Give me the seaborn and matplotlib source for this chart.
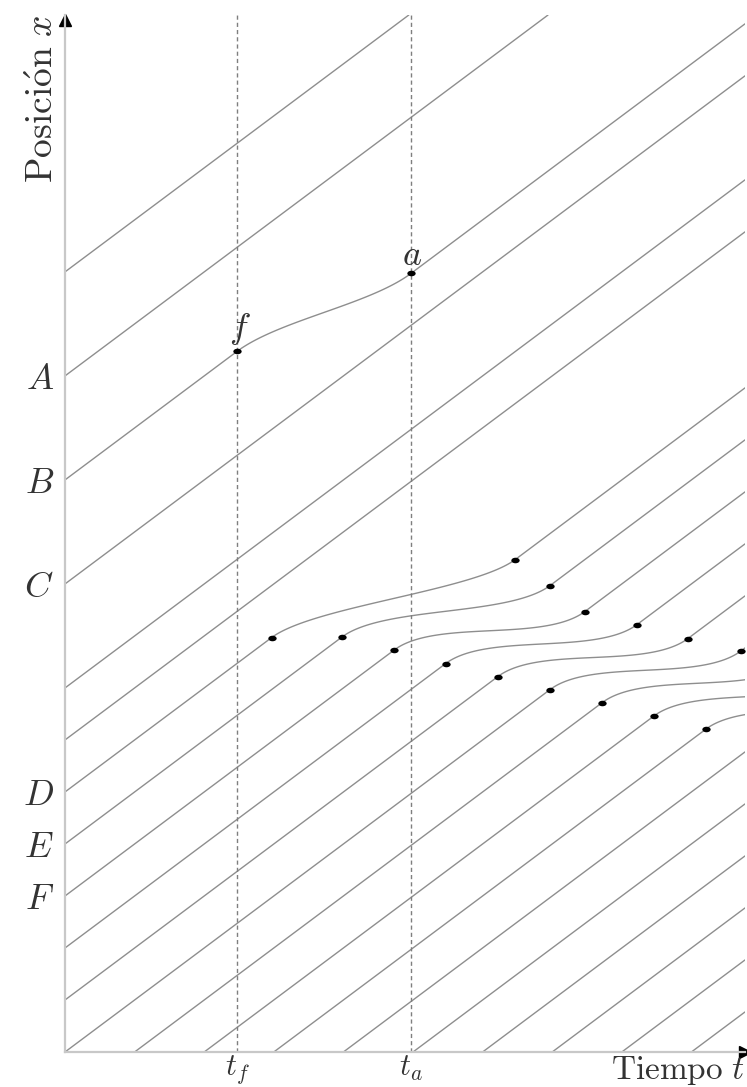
"""Space-time diagram: vehicle trajectories x = t + c with a slowed platoon."""
import matplotlib
import numpy as np
import pandas as pd

matplotlib.use("Agg")
import matplotlib.pyplot as plt  # noqa: E402
import seaborn as sns  # noqa: E402
from matplotlib.path import Path  # noqa: E402
from matplotlib.transforms import Affine2D  # noqa: E402

# visible extent of the axes (time, position)
T_MAX = 9.77
X_MAX = 19.94

# trajectories x = t + c that cross the plot without disturbance
FREE_OFFSETS = [15, 13, 9, 7, 6, -4, -5, -6, -7, -8, -9]

# platoon: offset of each vehicle, time it leaves its line, time it rejoins
PLATOON_OFFSETS = [5, 4, 3, 2, 1, 0, -1, -2, -3]
PLATOON_EXIT_T = [2.97, 3.98, 4.73, 5.47, 6.22, 6.97, 7.72, 8.46, 9.21]
PLATOON_JOIN_T = [6.47, 6.97, 7.47, 8.22, 8.95, 9.71, 10.46, 11.21, 11.96]
PLATOON_SHIFT = 2  # every vehicle rejoins two lines further back

# single vehicle f -> a
T_F = 2.47
T_A = 4.97
F_OFFSET = 11
A_OFFSET = 10

Y_TICKS = [13, 11, 9, 5, 4, 3]
Y_LABELS = ["$A$", "$B$", "$C$", "$D$", "$E$", "$F$"]
X_TICKS = [T_F, T_A]
X_LABELS = ["$t_f$", "$t_a$"]

LINE_GREY = "#8e8e8e"
TEXT_GREY = "#333333"
LEAD = 0.6  # bezier handle length for the smooth transitions


def straight(c, t0=None, t1=None):
    """Points of the line x = t + c clipped to the visible box."""
    t0 = max(0.0, -c) if t0 is None else t0
    t1 = min(T_MAX, X_MAX - c) if t1 is None else t1
    t = np.array([t0, t1])
    return t, t + c


def bezier(p, q, n=80):
    """Cubic bezier leaving p and entering q with the free-flow slope."""
    p, q = np.asarray(p, float), np.asarray(q, float)
    c1, c2 = p + LEAD, q - LEAD
    s = np.linspace(0.0, 1.0, n)[:, None]
    pts = (1 - s) ** 3 * p + 3 * (1 - s) ** 2 * s * c1 \
        + 3 * (1 - s) * s ** 2 * c2 + s ** 3 * q
    return pts[:, 0], pts[:, 1]


def trajectory(c_in, t_exit, c_out, t_join):
    """Line c_in up to t_exit, smooth shift, then line c_out from t_join."""
    t_a, x_a = straight(c_in, t1=t_exit)
    t_b, x_b = bezier((t_exit, t_exit + c_in), (t_join, t_join + c_out))
    parts_t, parts_x = [t_a, t_b], [x_a, x_b]
    if t_join < T_MAX:
        t_c, x_c = straight(c_out, t0=t_join)
        parts_t.append(t_c)
        parts_x.append(x_c)
    return np.concatenate(parts_t), np.concatenate(parts_x)


frames = []
for c in FREE_OFFSETS:
    t, x = straight(c)
    frames.append(pd.DataFrame({"veh": f"free{c}", "t": t, "x": x}))

for c, te, tj in zip(PLATOON_OFFSETS, PLATOON_EXIT_T, PLATOON_JOIN_T):
    t, x = trajectory(c, te, c - PLATOON_SHIFT, tj)
    frames.append(pd.DataFrame({"veh": f"plat{c}", "t": t, "x": x}))

t, x = trajectory(F_OFFSET, T_F, A_OFFSET, T_A)
frames.append(pd.DataFrame({"veh": "fa", "t": t, "x": x}))
traj = pd.concat(frames, ignore_index=True)

# event dots
dot_t = list(PLATOON_EXIT_T) + [tj for tj in PLATOON_JOIN_T if tj < T_MAX]
dot_x = [te + c for te, c in zip(PLATOON_EXIT_T, PLATOON_OFFSETS)]
dot_x += [tj + c - PLATOON_SHIFT
          for tj, c in zip(PLATOON_JOIN_T, PLATOON_OFFSETS) if tj < T_MAX]
dot_t += [T_F, T_A]
dot_x += [T_F + F_OFFSET, T_A + A_OFFSET]
dots = pd.DataFrame({"t": dot_t, "x": dot_x})

sns.set_theme(style="white")
plt.rcParams["mathtext.fontset"] = "cm"

fig = plt.figure(figsize=(7.47, 10.87), dpi=100)
ax = fig.add_axes([65 / 747, 35 / 1087, 680 / 747, 1037 / 1087])

sns.lineplot(data=traj, x="t", y="x", units="veh", estimator=None,
             sort=False, color=LINE_GREY, linewidth=1.0, ax=ax, legend=False)

ax.vlines(X_TICKS, 0, X_MAX, colors="#7f7f7f", linewidth=1.0,
          linestyles=(0, (3.0, 2.2)))

ellipse = Path.unit_circle().transformed(Affine2D().scale(1.5, 1.0))
sns.scatterplot(data=dots, x="t", y="x", marker=ellipse, s=36,
                color="black", linewidth=0, ax=ax, zorder=5)

ax.annotate("$f$", (T_F, T_F + F_OFFSET), xytext=(2, 3),
            textcoords="offset points", ha="center", va="bottom",
            fontsize=26, color=TEXT_GREY)
ax.annotate("$a$", (T_A, T_A + A_OFFSET), xytext=(1, 1),
            textcoords="offset points", ha="center", va="bottom",
            fontsize=26, color=TEXT_GREY)

ax.set_xlim(0, T_MAX)
ax.set_ylim(0, X_MAX)
ax.set_xlabel("")
ax.set_ylabel("")
ax.set_yticks(Y_TICKS, Y_LABELS)
ax.set_xticks(X_TICKS, X_LABELS)
ax.tick_params(axis="y", length=0, pad=8, labelsize=26, labelcolor=TEXT_GREY)
ax.tick_params(axis="x", length=0, pad=1, labelsize=22, labelcolor=TEXT_GREY)

sns.despine(ax=ax)
for side in ("left", "bottom"):
    ax.spines[side].set_color("#c8c8c8")
    ax.spines[side].set_linewidth(1.6)

# arrow heads on the axes
ax.plot([0], [X_MAX - 0.1], marker="^", ms=8, color="black", clip_on=False)
ax.plot([T_MAX], [0], marker=">", ms=8, color="black", clip_on=False)

fig.text(745 / 747, 1 - 1079 / 1087, r"$\mathrm{Tiempo}\ t$", ha="right",
         va="baseline", fontsize=24, color=TEXT_GREY)
fig.text(61 / 747, 1 - 14 / 1087, r"$\mathrm{Posici\acute{o}n}\ x$",
         rotation=90, ha="right", va="top", fontsize=27, color=TEXT_GREY)

fig.savefig("out.png", dpi=100)
plt.close(fig)
